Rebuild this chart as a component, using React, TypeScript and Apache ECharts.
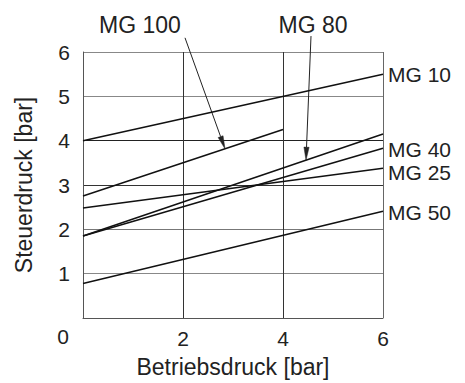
import React, { useEffect, useRef } from "react";
import * as echarts from "echarts";

const xTicks = [0, 2, 4, 6];
const yTicks = [0, 1, 2, 3, 4, 5, 6];
const seriesNames = ["MG 10", "MG 100", "MG 80", "MG 40", "MG 25", "MG 50"];
const mg10 = [[0, 4.0], [6, 5.5]];
const mg100 = [[0, 2.75], [4, 4.25]];
const mg80 = [[0, 1.85], [6, 4.15]];
const mg40 = [[0, 1.85], [6, 3.83]];
const mg25 = [[0, 2.48], [6, 3.38]];
const mg50 = [[0, 0.78], [6, 2.41]];
const endLabelled = ["MG 10", "MG 40", "MG 25", "MG 50"];
const endLabelOffsetY: Record<string, number> = { "MG 10": 0, "MG 40": 1, "MG 25": 4, "MG 50": 1 };

// annotations: label position, leader start, and the x where the arrow hits the series
const annotations = [
  { name: "MG 100", label: [1.14, 6.61], start: [2.04, 6.32], tipX: 2.84, data: mg100 },
  { name: "MG 80", label: [4.6, 6.61], start: [4.56, 6.36], tipX: 4.46, data: mg80 },
];

const FONT = "'Liberation Sans', Arial, Helvetica, sans-serif";
const TXT = "#222";

function interp(data: number[][], x: number) {
  const [a, b] = data;
  return a[1] + ((b[1] - a[1]) * (x - a[0])) / (b[0] - a[0]);
}

export default function App() {
  const ref = useRef<HTMLDivElement>(null);
  useEffect(() => {
    if (!ref.current) return;
    const chart = echarts.init(ref.current, null, { renderer: "svg" });
    const allData = [mg10, mg100, mg80, mg40, mg25, mg50];
    chart.setOption({
      animation: false,
      textStyle: { fontFamily: FONT },
      grid: { left: 83, right: 82, top: 52, bottom: 60, containLabel: false },
      xAxis: {
        type: "value",
        min: xTicks[0],
        max: xTicks[xTicks.length - 1],
        interval: 2,
        name: "Betriebsdruck [bar]",
        nameLocation: "middle",
        nameGap: 37,
        nameTextStyle: { fontSize: 23, color: TXT, fontFamily: FONT },
        axisLine: { show: true, lineStyle: { color: "#555", width: 1 } },
        axisTick: { show: false },
        axisLabel: {
          fontSize: 21,
          color: TXT,
          margin: 10,
          fontFamily: FONT,
          formatter: (v: number) => (v === 0 ? "" : String(v)),
        },
        splitLine: { show: true, lineStyle: { color: ["#555", "#333", "#333", "#666"], width: 1 } },
      },
      yAxis: {
        type: "value",
        min: yTicks[0],
        max: yTicks[yTicks.length - 1],
        interval: 1,
        name: "Steuerdruck [bar]",
        nameLocation: "middle",
        nameGap: 48,
        nameTextStyle: { fontSize: 23, color: TXT, fontFamily: FONT },
        axisLine: { show: true, lineStyle: { color: "#555", width: 1 } },
        axisTick: { show: false },
        axisLabel: {
          fontSize: 21,
          color: TXT,
          margin: 13,
          fontFamily: FONT,
          formatter: (v: number) => (v === 0 ? "" : String(v)),
        },
        splitLine: {
          show: true,
          lineStyle: { color: ["#555", "#888", "#777", "#333", "#222", "#888", "#888"], width: 1 },
        },
      },
      series: seriesNames.map((n, i) => ({
        name: n,
        type: "line",
        data: allData[i],
        symbol: "none",
        lineStyle: { color: "#111", width: 1.5 },
        endLabel: {
          show: endLabelled.includes(n),
          formatter: "{a}",
          distance: 5,
          offset: [0, endLabelOffsetY[n] || 0],
          fontSize: 21,
          lineHeight: 19,
          color: TXT,
          fontFamily: FONT,
        },
      })),
    });

    const graphics: any[] = [];
    const origin = chart.convertToPixel({ gridIndex: 0 }, [0, 0]) as number[];
    graphics.push({
      type: "text",
      x: origin[0] - 20,
      y: origin[1] + 18,
      style: { text: "0", fontSize: 21, fill: TXT, font: `21px ${FONT}`, align: "center", verticalAlign: "middle" },
    });
    annotations.forEach((a) => {
      const lp = chart.convertToPixel({ gridIndex: 0 }, a.label) as number[];
      const sp = chart.convertToPixel({ gridIndex: 0 }, a.start) as number[];
      const tp = chart.convertToPixel({ gridIndex: 0 }, [a.tipX, interp(a.data, a.tipX)]) as number[];
      graphics.push({
        type: "text",
        x: lp[0],
        y: lp[1],
        style: { text: a.name, font: `23px ${FONT}`, fill: TXT, align: "center", verticalAlign: "middle" },
      });
      const dx = tp[0] - sp[0];
      const dy = tp[1] - sp[1];
      const len = Math.sqrt(dx * dx + dy * dy);
      const ux = dx / len;
      const uy = dy / len;
      const hl = 13;
      const hw = 2.6;
      const bx = tp[0] - ux * hl;
      const by = tp[1] - uy * hl;
      graphics.push({
        type: "line",
        shape: { x1: sp[0], y1: sp[1], x2: bx, y2: by },
        style: { stroke: "#222", lineWidth: 1 },
      });
      graphics.push({
        type: "polygon",
        shape: {
          points: [
            [tp[0], tp[1]],
            [bx - uy * hw, by + ux * hw],
            [bx + uy * hw, by - ux * hw],
          ],
        },
        style: { fill: "#222", stroke: "#222", lineWidth: 0.5 },
      });
    });
    chart.setOption({ graphic: graphics });
    return () => chart.dispose();
  }, []);
  return <div ref={ref} style={{ position: "absolute", left: 0, top: 0, width: 465, height: 383 }} />;
}
